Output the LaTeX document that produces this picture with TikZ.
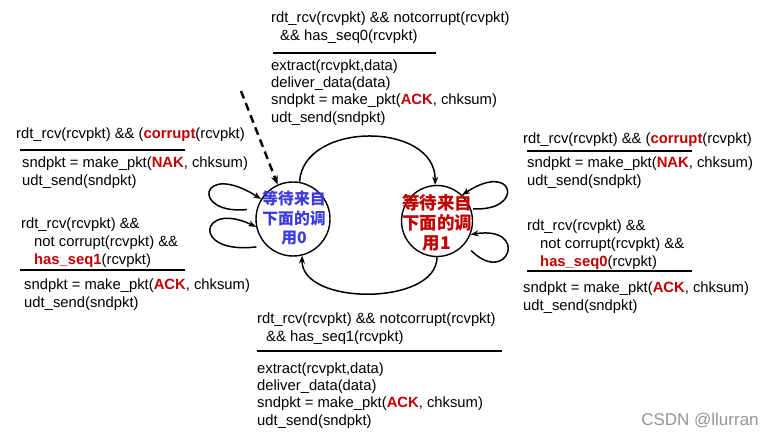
\documentclass[tikz,border=0pt]{standalone}
\usepackage{fontspec}
\setmainfont{Liberation Sans}
\newfontfamily\cjk{Noto Sans CJK SC}
\usetikzlibrary{arrows.meta}
\definecolor{kred}{RGB}{192,0,0}
\definecolor{kblue}{RGB}{60,60,222}
\definecolor{wmgray}{RGB}{150,150,150}
\newcommand{\hl}[1]{\textcolor{kred}{\textbf{#1}}}
\begin{document}
\begin{tikzpicture}[x=1pt,y=-1pt,
  txt/.style={inner sep=0pt, anchor=base west, align=left, font=\fontsize{14.8}{17.3}\selectfont},
  txtw/.style={txt, font=\fontsize{14.8}{18}\selectfont},
  rulel/.style={line width=2.4pt},
  state/.style={circle, draw, line width=1.4pt, minimum size=74pt, inner sep=0pt},
  edge/.style={line width=1.5pt, -{Stealth[length=8pt,width=6pt]}},
  dashedge/.style={line width=2.4pt, dash pattern=on 8pt off 5pt, -{Stealth[length=9pt,width=7pt]}},
  cjktxt/.style={inner sep=0pt, align=center}
]
\useasboundingbox[fill=white] (0,0) rectangle (778,437);

% states
\node[state] (L) at (293,219) {};
\node[state, minimum size=71pt] (R) at (437,221) {};
\node[cjktxt, text=kblue, font=\cjk\bfseries\fontsize{15.8}{19.5}\selectfont] (Lt) at (294,218) {等待来自\\下面的调\\用0};
\node[cjktxt, text=kred, font=\cjk\bfseries\fontsize{17.5}{20}\selectfont] (Rt) at (437,223) {等待来自\\下面的调\\用1};

% initial dashed arrow
\coordinate (init) at (241,91);
\draw[dashedge] (init) -- (L.114);

% transitions between states
\draw[edge] (L.80) .. controls (303,121) and (436,121) .. (R.93);
\draw[edge] (R.270) .. controls (437,306) and (301,306) .. (L.284);

% self loops on L
\draw[edge, shorten <=10pt] (L.164) .. controls (190,215) and (200,160) .. (L.148);
\draw[edge, shorten <=10pt] (L.225) .. controls (190,255) and (200,200) .. (L.192);
% self loops on R
\draw[edge, shorten <=2pt] (R.20) .. controls (525,212) and (515,160) .. (R.46);
\draw[edge, shorten <=9pt] (R.-40) .. controls (508,287) and (530,225) .. (R.-22);

% (multi-line nodes: base anchor = baseline of the last line)
% top transition label
\node[txt] (c1) at (271,40) {rdt\_rcv(rcvpkt) \&\& notcorrupt(rcvpkt)\\\hspace*{9pt}\&\& has\_seq0(rcvpkt)};
\draw[rulel] (273,53) -- (436,53);
\node[txt] (a1) at (271,122) {extract(rcvpkt,data)\\deliver\_data(data)\\sndpkt = make\_pkt(\hl{ACK}, chksum)\\udt\_send(sndpkt)};

% left upper loop label
\node[txt] (c2) at (16,138) {rdt\_rcv(rcvpkt) \&\& (\hl{corrupt}(rcvpkt)};
\draw[rulel] (20,150) -- (185,150);
\node[txt] (a2) at (22,185) {sndpkt = make\_pkt(\hl{NAK}, chksum)\\udt\_send(sndpkt)};

% left lower loop label
\node[txtw] (c3) at (21,264) {rdt\_rcv(rcvpkt) \&\&\\\hspace*{13pt}not corrupt(rcvpkt) \&\&\\\hspace*{13pt}\hl{has\_seq1}(rcvpkt)};
\draw[rulel] (20,270) -- (185,270);
\node[txt] (a3) at (24,307) {sndpkt = make\_pkt(\hl{ACK}, chksum)\\udt\_send(sndpkt)};

% right upper loop label
\node[txt] (c4) at (523,143) {rdt\_rcv(rcvpkt) \&\& (\hl{corrupt}(rcvpkt)};
\draw[rulel] (527,151) -- (692,151);
\node[txt] (a4) at (527,185) {sndpkt = make\_pkt(\hl{NAK}, chksum)\\udt\_send(sndpkt)};

% right lower loop label
\node[txtw] (c5) at (527,266) {rdt\_rcv(rcvpkt) \&\&\\\hspace*{13pt}not corrupt(rcvpkt) \&\&\\\hspace*{13pt}\hl{has\_seq0}(rcvpkt)};
\draw[rulel] (527,271) -- (692,271);
\node[txt] (a5) at (523,310) {sndpkt = make\_pkt(\hl{ACK}, chksum)\\udt\_send(sndpkt)};

% bottom transition label
\node[txt] (c6) at (257,341) {rdt\_rcv(rcvpkt) \&\& notcorrupt(rcvpkt)\\\hspace*{9pt}\&\& has\_seq1(rcvpkt)};
\draw[rulel] (257,351) -- (502,351);
\node[txt] (a6) at (257,425) {extract(rcvpkt,data)\\deliver\_data(data)\\sndpkt = make\_pkt(\hl{ACK}, chksum)\\udt\_send(sndpkt)};

% watermark
\node[inner sep=0pt, text=wmgray, font=\fontsize{17}{20}\selectfont] (wm) at (700,421) {CSDN @llurran};
\end{tikzpicture}
\end{document}
